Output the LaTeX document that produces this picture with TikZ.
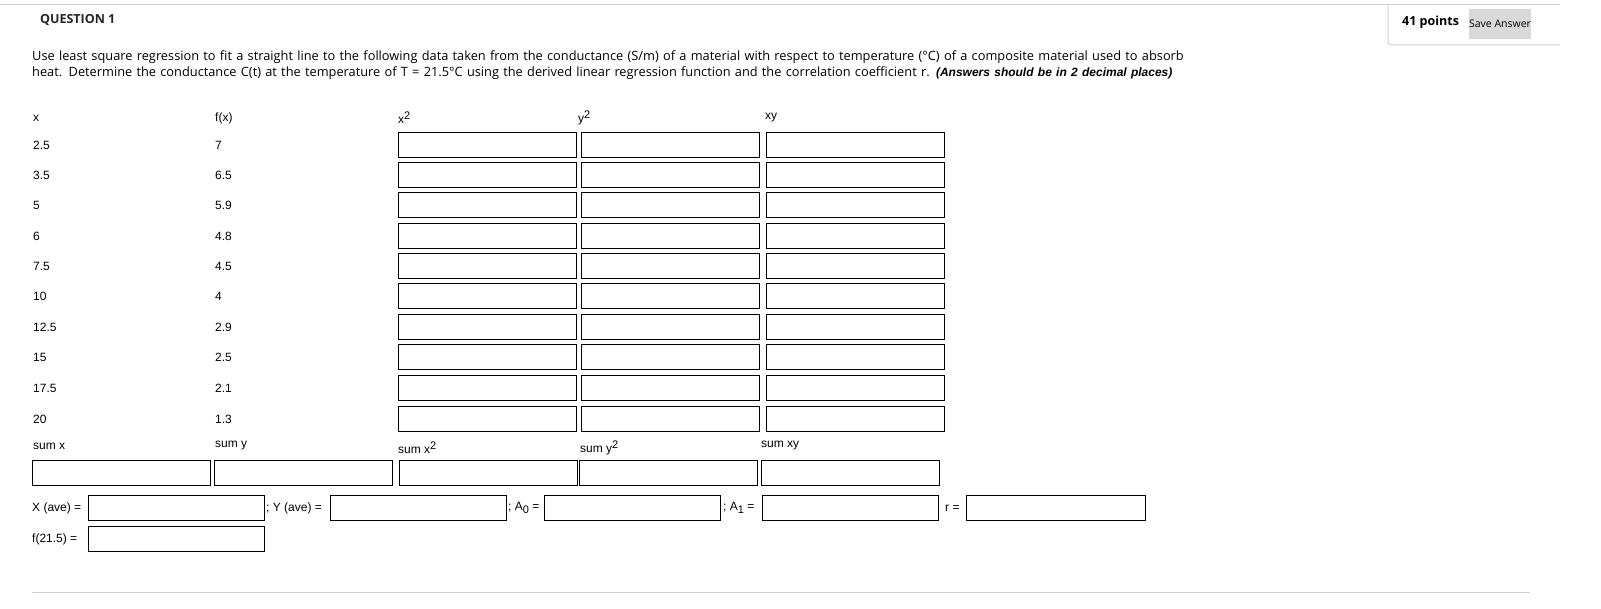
\documentclass[tikz,border=0pt]{standalone}
\usepackage{fontspec}
\setmainfont{Open Sans}
\newfontfamily\arialf{Liberation Sans}
\newcommand{\supr}[1]{\raisebox{4pt}{\fontsize{11}{12}\selectfont #1}}
\newcommand{\subr}[1]{\raisebox{-3pt}{\fontsize{11}{12}\selectfont #1}}
\begin{document}
\begin{tikzpicture}[x=1pt,y=-1pt,
  fbox/.style={draw=black,line width=1pt,minimum width=#1,minimum height=25pt,inner sep=0pt,anchor=west},
  fbox/.default=178pt,
  lab/.style={font=\arialf\fontsize{12}{14}\selectfont,anchor=west,inner sep=0pt},
  sep/.style={draw=black!18,line width=1pt}]
\useasboundingbox (0,0) rectangle (1601,609);
\draw[sep] (0,5) -- (1560,5);
\draw[sep,rounded corners=3pt] (1388,5) -- (1388,45) -- (1560,45);
\node[font=\bfseries\fontsize{12.5}{14}\selectfont,anchor=west,inner sep=0pt] (pts) at (1402,22) {41 points};
\node[fill=black!15,minimum width=62pt,minimum height=30pt,font=\fontsize{10.5}{12}\selectfont,inner sep=0pt] (save) at (1500,24) {Save Answer};
\node[font=\bfseries\fontsize{12.5}{14}\selectfont,anchor=west,inner sep=0pt,text=black!85] (q) at (40,20) {QUESTION 1};
\node[anchor=north west,inner sep=0pt,text width=1165pt,font=\fontsize{12.8}{16}\selectfont,align=left] (para) at (32,51) {Use least square regression to fit a straight line to the following data taken from the conductance (S/m) of a material with respect to temperature (°C) of a composite material used to absorb heat. Determine the conductance C(t) at the temperature of T = 21.5°C using the derived linear regression function and the correlation coefficient r. {\arialf\bfseries\itshape\fontsize{12}{16}\selectfont (Answers should be in 2 decimal places)}};
\node[lab] (hx) at (33,118) {x};
\node[lab] (hf) at (215,118) {f(x)};
\node[lab] (hx2) at (398,118) {x\supr{2}};
\node[lab] (hy2) at (578,118) {y\supr{2}};
\node[lab] (hxy) at (765,118) {xy};
\foreach \xv/\fv/\yy [count=\i] in {2.5/7/145,3.5/6.5/175,5/5.9/205,6/4.8/236,7.5/4.5/266,10/4/296,12.5/2.9/327,15/2.5/357,17.5/2.1/388,20/1.3/419}{
  \node[lab] (x\i) at (33,\yy) {\xv};
  \node[lab] (f\i) at (215,\yy) {\fv};
  \node[fbox] (a\i) at (398,\yy) {};
  \node[fbox] (b\i) at (581,\yy) {};
  \node[fbox] (c\i) at (766,\yy) {};
}
\node[lab] (sx) at (33,446) {sum x};
\node[lab] (sy) at (215,446) {sum y};
\node[lab] (sx2) at (398,448) {sum x\supr{2}};
\node[lab] (sy2) at (580,448) {sum y\supr{2}};
\node[lab] (sxy) at (761,446) {sum xy};
\node[fbox] (bsx) at (32,473) {};
\node[fbox] (bsy) at (214,473) {};
\node[fbox] (bsx2) at (399,473) {};
\node[fbox] (bsy2) at (579,473) {};
\node[fbox] (bsxy) at (761,473) {};
\node[lab] (lxa) at (32,508) {X (ave) =};
\node[fbox=176pt] (bxa) at (88,508) {};
\node[lab] (lya) at (266,508) {; Y (ave) =};
\node[fbox=176pt] (bya) at (330,508) {};
\node[lab] (la0) at (508,508) {; A\subr{0} =};
\node[fbox=176pt] (ba0) at (544,508) {};
\node[lab] (la1) at (723,508) {; A\subr{1} =};
\node[fbox=176pt] (ba1) at (762,508) {};
\node[lab] (lr) at (945,508) {r =};
\node[fbox=179pt] (br) at (966,508) {};
\node[lab] (lf) at (32,539) {f(21.5) =};
\node[fbox=176pt] (bf) at (88,539) {};
\draw[sep] (32,592) -- (1530,592);
\end{tikzpicture}
\end{document}
